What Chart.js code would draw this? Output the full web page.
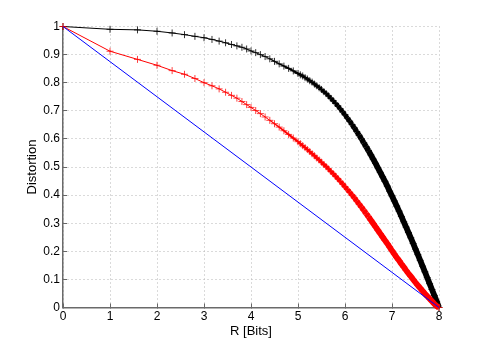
<!DOCTYPE html>
<html lang="en">
<head>
<meta charset="utf-8"/>
<title>Distortion vs R</title>
<script src="https://cdn.jsdelivr.net/npm/chart.js"></script>
<style>
        body {
            margin: 0;
            background-color: #ffffff;
        }
        .chart-box {
            width: 485px;
            height: 346px;
            position: relative;
        }
</style>
</head>
<body>
<div class="chart-box">
<canvas id="rdChart" width="485" height="346"></canvas>
</div>
<script>
        // rate axis (bits), shared by the black and red curves
        const rates = [
            0, 1, 1.585, 2, 2.322, 2.585, 2.807, 3, 3.17, 3.322, 3.459, 3.585, 3.7, 3.807, 3.907,
            4, 4.1, 4.2, 4.3, 4.4, 4.5, 4.6, 4.7, 4.8, 4.9,
            5, 5.05, 5.1, 5.15, 5.2, 5.25, 5.3, 5.35, 5.4, 5.45, 5.5, 5.55, 5.6, 5.65, 5.7, 5.75, 5.8, 5.85, 5.9, 5.95,
            6, 6.05, 6.1, 6.15, 6.2, 6.25, 6.3, 6.35, 6.4, 6.45, 6.5, 6.55, 6.6, 6.65, 6.7, 6.75, 6.8, 6.85, 6.9, 6.95,
            7, 7.05, 7.1, 7.15, 7.2, 7.25, 7.3, 7.35, 7.4, 7.45, 7.5, 7.55, 7.6, 7.65, 7.7, 7.75, 7.8, 7.85, 7.9, 7.95,
            8
        ];

        // black curve
        const distortionBlack = [
            1, 0.99, 0.988, 0.983, 0.977, 0.971, 0.965, 0.96, 0.954, 0.948, 0.942, 0.936, 0.931, 0.926, 0.92,
            0.913, 0.907, 0.9, 0.893, 0.885, 0.876, 0.867, 0.859, 0.851, 0.842,
            0.833, 0.828, 0.824, 0.818, 0.813, 0.807, 0.802, 0.795, 0.789, 0.782, 0.776, 0.768, 0.761, 0.753, 0.744, 0.736, 0.726, 0.717, 0.707, 0.696,
            0.686, 0.674, 0.663, 0.651, 0.639, 0.626, 0.613, 0.6, 0.586, 0.572, 0.558, 0.543, 0.528, 0.513, 0.497, 0.481, 0.465, 0.449, 0.432, 0.414,
            0.397, 0.379, 0.361, 0.343, 0.324, 0.305, 0.286, 0.267, 0.248, 0.228, 0.208, 0.188, 0.168, 0.147, 0.127, 0.106, 0.085, 0.064, 0.043, 0.022,
            0
        ];

        // red curve
        const distortionRed = [
            1, 0.912, 0.883, 0.862, 0.843, 0.83, 0.815, 0.8, 0.789, 0.778, 0.766, 0.755, 0.745, 0.733, 0.722,
            0.712, 0.701, 0.69, 0.678, 0.666, 0.654, 0.642, 0.629, 0.616, 0.603,
            0.59, 0.583, 0.576, 0.569, 0.562, 0.555, 0.547, 0.54, 0.532, 0.525, 0.517, 0.509, 0.501, 0.493, 0.484, 0.476, 0.467, 0.458, 0.449, 0.439,
            0.43, 0.42, 0.41, 0.4, 0.39, 0.379, 0.368, 0.357, 0.346, 0.334, 0.323, 0.311, 0.299, 0.287, 0.275, 0.263, 0.251, 0.239, 0.227, 0.215,
            0.202, 0.19, 0.178, 0.167, 0.155, 0.144, 0.132, 0.121, 0.111, 0.1, 0.089, 0.079, 0.069, 0.059, 0.049, 0.04, 0.031, 0.022, 0.013, 0.005,
            0
        ];

        // blue straight line
        const blueRates = [0, 8];
        const distortionBlue = [1, 0];

        const xTicks = [0, 1, 2, 3, 4, 5, 6, 7, 8];
        const yTicks = [0, 0.1, 0.2, 0.3, 0.4, 0.5, 0.6, 0.7, 0.8, 0.9, 1];

        const toPoints = (xs, ys) => xs.map((x, i) => ({ x: x, y: ys[i] }));
        const fontFamily = "'Liberation Sans', Arial, Helvetica, sans-serif";

        // the original has markers packed tighter and tighter towards R = 8,
        // so the curve turns into a heavy band there
        function bandWidth(ctx) {
            const r = ctx.p0.parsed.x;
            const t = Math.min(1, Math.max(0, (r - 4.3) / 2.2));
            return 1 + t * 4.8;
        }

        const axisGrid = {
            color: '#b4b4b4',
            lineWidth: 1,
            drawTicks: true,
            tickLength: -4,
            tickColor: '#666666',
            tickWidth: 1
        };
        const axisBorder = {
            color: '#6a6a6a',
            width: 1.5,
            dash: [1, 3]
        };

        const rdCtx = document.getElementById('rdChart').getContext('2d');
        const rdChart = new Chart(rdCtx, {
            type: 'scatter',
            data: {
                datasets: [
                    {
                        data: toPoints(blueRates, distortionBlue),
                        showLine: true,
                        borderColor: '#0000ff',
                        borderWidth: 1,
                        pointRadius: 0,
                        clip: false
                    },
                    {
                        data: toPoints(rates, distortionRed),
                        showLine: true,
                        borderColor: '#ff0000',
                        borderWidth: 1,
                        segment: { borderWidth: bandWidth },
                        pointStyle: 'cross',
                        pointRadius: 3.5,
                        pointBorderWidth: 1,
                        pointBorderColor: 'rgba(255, 0, 0, 0.75)',
                        clip: false
                    },
                    {
                        data: toPoints(rates, distortionBlack),
                        showLine: true,
                        borderColor: '#000000',
                        borderWidth: 1,
                        segment: { borderWidth: bandWidth },
                        pointStyle: 'cross',
                        pointRadius: 3.5,
                        pointBorderWidth: 1,
                        pointBorderColor: 'rgba(0, 0, 0, 0.8)',
                        clip: false
                    }
                ]
            },
            options: {
                responsive: false,
                animation: false,
                layout: {
                    padding: { top: 26.5, right: 46, left: 0, bottom: 0 }
                },
                plugins: {
                    legend: { display: false },
                    tooltip: { enabled: false }
                },
                scales: {
                    x: {
                        type: 'linear',
                        min: 0,
                        max: 8,
                        afterBuildTicks: (scale) => { scale.ticks = xTicks.map(v => ({ value: v })); },
                        afterFit: (scale) => { scale.height = 38.5; },
                        ticks: {
                            padding: 6,
                            color: '#000',
                            font: { family: fontFamily, size: 12 }
                        },
                        grid: axisGrid,
                        border: axisBorder,
                        title: {
                            display: true,
                            text: 'R [Bits]',
                            color: '#000',
                            font: { family: fontFamily, size: 13 },
                            padding: { top: 0, bottom: 7 }
                        }
                    },
                    y: {
                        type: 'linear',
                        min: 0,
                        max: 1,
                        afterBuildTicks: (scale) => { scale.ticks = yTicks.map(v => ({ value: v })); },
                        afterFit: (scale) => { scale.width = 63; },
                        ticks: {
                            padding: 7,
                            color: '#000',
                            font: { family: fontFamily, size: 12 },
                            callback: (value) => String(Math.round(value * 10) / 10)
                        },
                        grid: axisGrid,
                        border: axisBorder,
                        title: {
                            display: true,
                            text: 'Distortion',
                            color: '#000',
                            font: { family: fontFamily, size: 13 },
                            padding: { top: 25, bottom: 0 }
                        }
                    }
                }
            }
        });
</script>
</body>
</html>
